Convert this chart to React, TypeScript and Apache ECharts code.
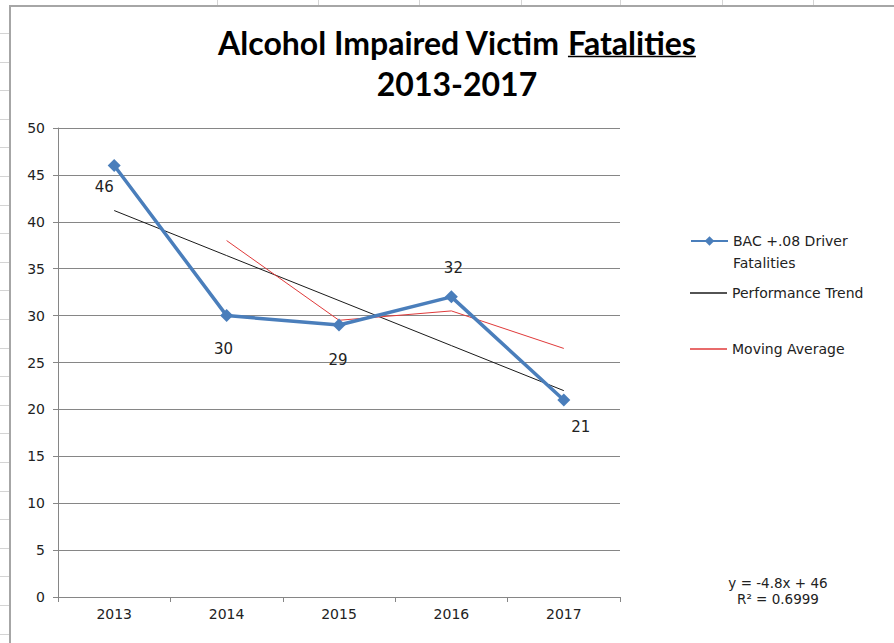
import React, { useEffect, useRef } from "react";
import * as echarts from "echarts";

const categories = ["2013", "2014", "2015", "2016", "2017"];
const fatalities = [46, 30, 29, 32, 21];
const trend = [41.2, 36.4, 31.6, 26.8, 22.0];
const movingAvg: (number | null)[] = [null, 38, 29.5, 30.5, 26.5];
const yMin = 0;
const yMax = 50;
const yInterval = 5;

const titleMain = "Alcohol Impaired Victim ";
const titleUnderlined = "Fatalities";
const titleSub = "2013-2017";
const equationLines = ["y = -4.8x + 46", "R² = 0.6999"];
const seriesNames = ["BAC +.08 Driver Fatalities", "Performance Trend", "Moving Average"];

const FONT = "'DejaVu Sans', 'Noto Sans', sans-serif";
const labelOffsets = [
  [-10, 21],
  [-3, 33],
  [-1, 35],
  [2, -29],
  [17, 27],
];

function measure(text: string, font: string): number {
  const c = document.createElement("canvas");
  const ctx = c.getContext("2d");
  if (!ctx) return text.length * 12;
  ctx.font = font;
  return ctx.measureText(text).width;
}

export default function App() {
  const ref = useRef<HTMLDivElement>(null);

  useEffect(() => {
    document.body.style.margin = "0";
    if (!ref.current) return;
    const chart = echarts.init(ref.current, undefined, { renderer: "svg" });

    const baseSize = 26;
    const wFull = measure(titleMain + titleUnderlined, `bold ${baseSize}px Lato`);
    const titleSize = Math.round(((baseSize * 478) / wFull) * 10) / 10;
    const tFont = `bold ${titleSize}px Lato`;
    const w1 = measure(titleMain, tFont);
    const w2 = measure(titleUnderlined, tFont);
    const cx = 457;
    const startX = cx - (w1 + w2) / 2;

    const bg: any[] = [];
    [217, 318, 419, 521, 620, 722, 813].forEach((x) =>
      bg.push({ type: "line", z: -10, shape: { x1: x + 0.5, y1: 0, x2: x + 0.5, y2: 6 }, style: { stroke: "#d4d4d4", lineWidth: 1 } })
    );
    for (let k = 0; k < 22; k++) {
      const y = Math.round(33 + 28.6 * k) + 0.5;
      bg.push({ type: "line", z: -10, shape: { x1: 0, y1: y, x2: 10, y2: y }, style: { stroke: "#d4d4d4", lineWidth: 1 } });
    }
    bg.push({
      type: "rect",
      z: -9,
      shape: { x: 10, y: 6, width: 1000, height: 800 },
      style: { fill: "#ffffff", stroke: "#a6a6a6", lineWidth: 2 },
    });

    const texts: any[] = [
      {
        type: "text",
        x: startX,
        y: 42,
        style: { text: titleMain, font: tFont, fill: "#000", textAlign: "left", textVerticalAlign: "middle" },
      },
      {
        type: "text",
        x: startX + w1,
        y: 42,
        style: { text: titleUnderlined, font: tFont, fill: "#000", textAlign: "left", textVerticalAlign: "middle" },
      },
      {
        type: "line",
        shape: { x1: startX + w1, y1: 56.5, x2: startX + w1 + w2, y2: 56.5 },
        style: { stroke: "#000", lineWidth: 1.5 },
      },
      {
        type: "text",
        x: cx,
        y: 83,
        style: { text: titleSub, font: tFont, fill: "#000", textAlign: "center", textVerticalAlign: "middle" },
      },
      {
        type: "text",
        x: 778,
        y: 583,
        style: { text: equationLines[0], font: `13.5px ${FONT}`, fill: "#222", textAlign: "center", textVerticalAlign: "middle" },
      },
      {
        type: "text",
        x: 778,
        y: 599,
        style: { text: equationLines[1], font: `13.5px ${FONT}`, fill: "#222", textAlign: "center", textVerticalAlign: "middle" },
      },
    ];

    const legendCommon = {
      orient: "vertical",
      padding: 0,
      itemWidth: 37,
      itemGap: 0,
      left: 690,
      selectedMode: false,
    };

    chart.setOption({
      animation: false,
      backgroundColor: "#ffffff",
      textStyle: { fontFamily: FONT },
      graphic: [...bg, ...texts],
      grid: { left: 58, right: 274, top: 128, bottom: 46, containLabel: false },
      legend: [
        {
          ...legendCommon,
          itemHeight: 12,
          top: 208,
          data: [seriesNames[0]],
          formatter: () => " \nBAC +.08 Driver\nFatalities",
          textStyle: { fontSize: 14, lineHeight: 22, color: "#222", fontFamily: FONT },
        },
        {
          ...legendCommon,
          itemHeight: 1.5,
          icon: "rect",
          top: 285,
          data: [seriesNames[1]],
          textStyle: { fontSize: 14, lineHeight: 16, color: "#222", fontFamily: FONT },
        },
        {
          ...legendCommon,
          itemHeight: 1.5,
          icon: "rect",
          top: 341,
          data: [seriesNames[2]],
          textStyle: { fontSize: 14, lineHeight: 16, color: "#222", fontFamily: FONT },
        },
      ],
      xAxis: {
        type: "category",
        data: categories,
        boundaryGap: true,
        axisLine: { show: true, lineStyle: { color: "#868686", width: 1 } },
        axisTick: { show: true, length: 5, lineStyle: { color: "#868686" } },
        axisLabel: { color: "#222", fontSize: 14, margin: 10, fontFamily: FONT },
        splitLine: { show: false },
      },
      yAxis: {
        type: "value",
        min: yMin,
        max: yMax,
        interval: yInterval,
        axisLine: { show: true, lineStyle: { color: "#868686", width: 1 } },
        axisTick: { show: true, length: 5, lineStyle: { color: "#868686" } },
        axisLabel: { color: "#222", fontSize: 14, margin: 13, fontFamily: FONT },
        splitLine: { show: true, lineStyle: { color: "#868686", width: 1 } },
      },
      series: [
        {
          name: seriesNames[0],
          type: "line",
          data: fatalities.map((v, i) => ({
            value: v,
            label: { offset: labelOffsets[i] },
          })),
          z: 5,
          symbol: "diamond",
          symbolSize: 13,
          lineStyle: { color: "#4a7ebb", width: 3.5 },
          itemStyle: { color: "#4a7ebb" },
          label: {
            show: true,
            position: "inside",
            color: "#222",
            fontSize: 15,
            fontFamily: FONT,
          },
        },
        {
          name: seriesNames[1],
          type: "line",
          data: trend,
          z: 4,
          symbol: "none",
          lineStyle: { color: "#1a1a1a", width: 1 },
          itemStyle: { color: "#1a1a1a" },
        },
        {
          name: seriesNames[2],
          type: "line",
          data: movingAvg,
          z: 4,
          symbol: "none",
          connectNulls: false,
          lineStyle: { color: "#e03a3a", width: 1 },
          itemStyle: { color: "#e03a3a" },
        },
      ],
    });

    return () => chart.dispose();
  }, []);

  return <div ref={ref} style={{ width: 894, height: 643 }} />;
}
